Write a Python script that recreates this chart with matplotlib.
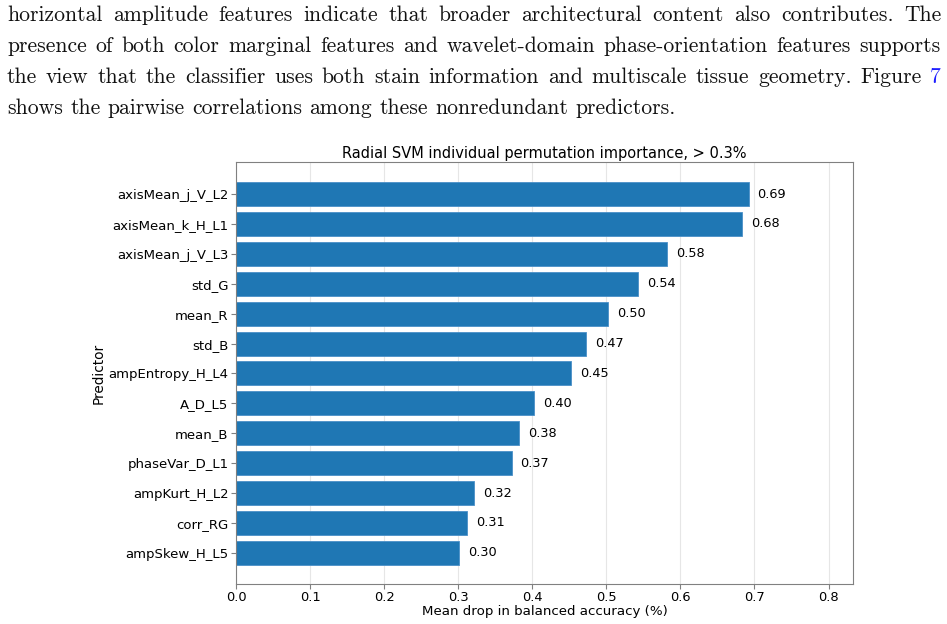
import matplotlib
matplotlib.use("Agg")
import matplotlib.pyplot as plt

predictors = ["axisMean_j_V_L2", "axisMean_k_H_L1", "axisMean_j_V_L3", "std_G", "mean_R",
              "std_B", "ampEntropy_H_L4", "A_D_L5", "mean_B", "phaseVar_D_L1",
              "ampKurt_H_L2", "corr_RG", "ampSkew_H_L5"]
importance = [0.692, 0.683, 0.582, 0.543, 0.502, 0.472, 0.452, 0.402, 0.382, 0.372,
              0.321, 0.312, 0.301]
xticks = [0.0, 0.1, 0.2, 0.3, 0.4, 0.5, 0.6, 0.7, 0.8]

paragraph = [
    "horizontal amplitude features indicate that broader architectural content also contributes.  The",
    "presence of both color marginal features and wavelet-domain phase-orientation features supports",
    "the view that the classifier uses both stain information and multiscale tissue geometry.  Figure 7",
    "shows the pairwise correlations among these nonredundant predictors.",
]

W, H = 947, 624
fig = plt.figure(figsize=(W / 100, H / 100), dpi=100)
renderer = fig.canvas.get_renderer()

# Paragraph text (justified), font size fitted to the first word's width
left_px, right_px = 7, 941
first_word_px = 94.5
baselines = [21, 52, 83, 114]
probe = fig.text(0, 0, "horizontal", fontsize=14, family="cmr10")
fs = 14 * first_word_px / probe.get_window_extent(renderer).width
probe.remove()

def width_of(s):
    t = fig.text(0, 0, s, fontsize=fs, family="cmr10")
    w = t.get_window_extent(renderer).width
    t.remove()
    return w

space_w = width_of("a a") - width_of("aa")

for li, line in enumerate(paragraph):
    words = line.split()
    texts = []
    for w in words:
        col = "#1f1fff" if (w == "7" and li == 2) else "#111111"
        t = fig.text(0, 1 - baselines[li] / H, w, fontsize=fs, family="cmr10",
                     va="baseline", ha="left", color=col)
        texts.append(t)
    widths = [t.get_window_extent(renderer).width for t in texts]
    if li < len(paragraph) - 1:
        gap = (right_px - left_px - sum(widths)) / (len(words) - 1)
    else:
        gap = space_w
    x = left_px
    for t, w in zip(texts, widths):
        t.set_x(x / W)
        x += w + gap

# Chart
ax = fig.add_axes([236 / W, 1 - 584 / H, (853 - 236) / W, (584 - 162) / H])
ypos = list(range(len(predictors)))
ax.barh(ypos, importance, height=0.8, color="#1f77b4", edgecolor="#4a90c8",
        linewidth=0.6, zorder=2)
for y, v in zip(ypos, importance):
    ax.annotate(f"{v:.2f}", xy=(v, y), xytext=(6.5, 0), textcoords="offset points",
                va="center", ha="left", fontsize=9.3)
ax.set_yticks(ypos)
ax.set_yticklabels(predictors, fontsize=9.5)
ax.set_ylim(len(predictors) - 1 + 1.04, -1.07)
ax.set_xlim(0, 0.833)
ax.set_xticks(xticks)
ax.set_xticklabels([f"{t:.1f}" for t in xticks], fontsize=9.4)
ax.grid(axis="x", color="#e6e6e6", linewidth=0.8, zorder=0)
ax.set_axisbelow(True)
for s in ax.spines.values():
    s.set_color("#808080")
ax.tick_params(colors="black", length=3.5, color="#808080")
ax.tick_params(axis="x", pad=1.5)
ax.tick_params(axis="y", pad=1.8)
ax.set_title("Radial SVM individual permutation importance, > 0.3%", fontsize=10.5, pad=3)
ax.set_xlabel("Mean drop in balanced accuracy (%)", fontsize=9.6, labelpad=1)
ax.set_ylabel("Predictor", fontsize=9.8, labelpad=2)

fig.savefig("out.png", dpi=100)
